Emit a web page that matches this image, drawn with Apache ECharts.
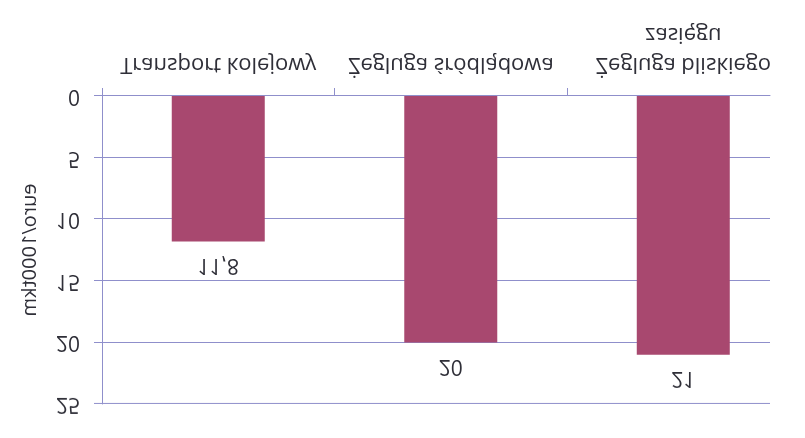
<!DOCTYPE html>
<html>
<head>
<meta charset="utf-8">
<script src="https://cdn.jsdelivr.net/npm/echarts@6/dist/echarts.min.js"></script>
<style>
  html, body { margin: 0; padding: 0; background: #fff; }
  /* the reference is mirrored top-to-bottom, so the whole chart is flipped */
  #chart { width: 805px; height: 438px; transform: scaleY(-1); }
</style>
</head>
<body>
<div id="chart"></div>
<script>
// categories and values
const categories = ["Transport kolejowy", "Żegluga śródlądowa", "Żegluga bliskiego\nzasięgu"];
const values = [11.8, 20, 21];
const valueLabels = ["11,8", "20", "21"];
const yTicks = [0, 5, 10, 15, 20, 25];

const font = "'Open Sans', 'Noto Sans', sans-serif";
const lineColor = "#8f8fcb";
const textColor = "#2f2f38";

const chart = echarts.init(document.getElementById("chart"));

// bars sit in the middle of each category slot on a numeric x scale
const barData = values.map((v, i) => ({ value: [i + 0.5, v], label: { formatter: valueLabels[i] } }));

const option = {
  backgroundColor: "#fff",
  animation: false,
  grid: { left: 102, right: 35, top: 34, bottom: 96 },
  xAxis: {
    type: "value",
    min: 0,
    max: 2.873,
    axisLine: { show: true, lineStyle: { color: lineColor, width: 1 } },
    axisTick: { show: true, length: 8, customValues: [0, 1, 2], lineStyle: { color: lineColor } },
    splitLine: { show: false },
    axisLabel: {
      customValues: [0.5, 1.5, 2.5],
      formatter: (v) => categories[Math.floor(v)],
      margin: 17,
      color: textColor,
      fontFamily: font,
      fontSize: 22,
      lineHeight: 30,
      align: "center",
    },
  },
  yAxis: {
    type: "value",
    min: yTicks[0],
    max: yTicks[yTicks.length - 1],
    interval: 5,
    name: "euro/1000tkm",
    nameLocation: "middle",
    nameGap: 62,
    nameTextStyle: { color: textColor, fontFamily: font, fontSize: 20 },
    axisLine: { show: true, lineStyle: { color: lineColor, width: 1 } },
    axisTick: { show: true, length: 8, lineStyle: { color: lineColor } },
    splitLine: { show: true, lineStyle: { color: lineColor, width: 1 } },
    axisLabel: { margin: 22, color: textColor, fontFamily: font, fontSize: 21 },
  },
  series: [
    {
      type: "bar",
      data: barData,
      barWidth: 93,
      itemStyle: { color: "#a8486f" },
      label: {
        show: true,
        position: "top",
        distance: 13,
        color: textColor,
        fontFamily: font,
        fontSize: 21,
      },
    },
  ],
};

chart.setOption(option);
</script>
</body>
</html>
